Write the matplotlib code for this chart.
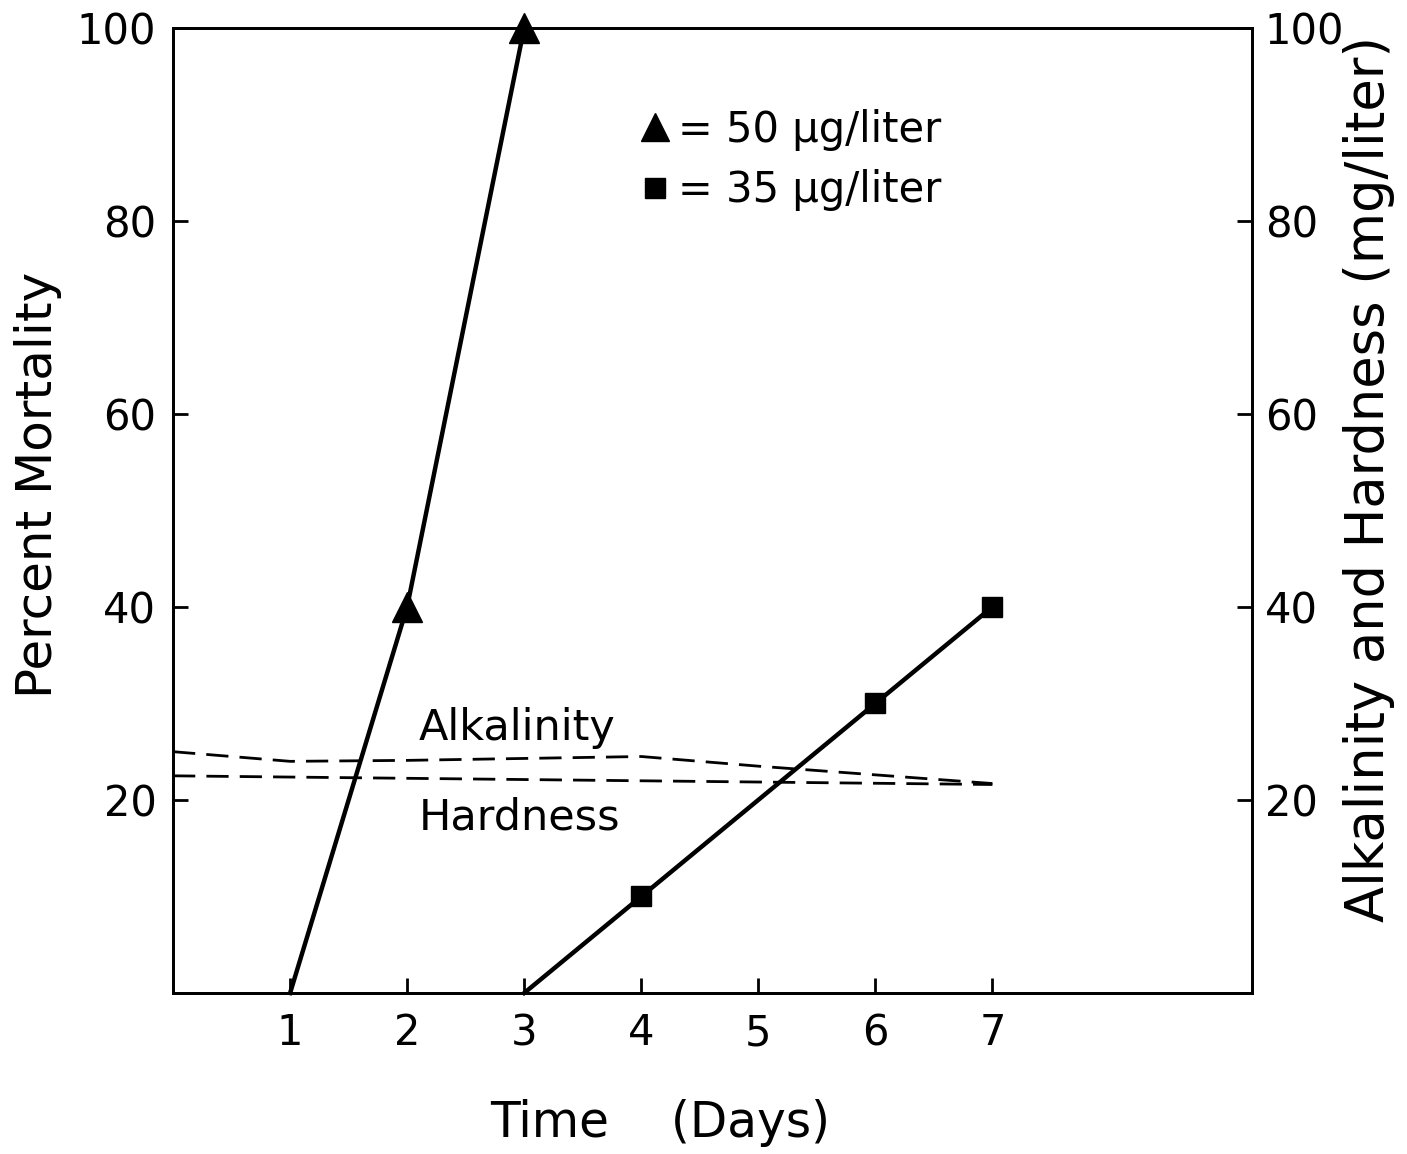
import matplotlib
matplotlib.use("Agg")
import matplotlib.pyplot as plt
from matplotlib.lines import Line2D

plt.rcParams['font.family'] = ['DejaVu Sans']

# Data
days_50 = [1, 2, 3]
mort_50 = [0, 40, 100]
days_35 = [3, 4, 6, 7]
mort_35 = [0, 10, 30, 40]
alk_days = [0, 1, 2, 3, 4, 5, 6, 7]
alkalinity = [25.0, 24.0, 24.1, 24.3, 24.5, 23.5, 22.6, 21.7]
hard_days = [0, 7]
hardness = [22.5, 21.6]
x_ticks = [1, 2, 3, 4, 5, 6, 7]
y_ticks = [20, 40, 60, 80, 100]
legend_labels = ["= 50 µg/liter", "= 35 µg/liter"]

fig = plt.figure(figsize=(14.07, 11.54), dpi=100)
ax = fig.add_axes([0.123, 0.1395, 0.767, 0.8365])
ax.set_xlim(0, 9.22)
ax.set_ylim(0, 100)

ax.plot(days_50, mort_50, color='black', lw=3.2, clip_on=False)
ax.plot(days_50[1:], mort_50[1:], linestyle='None', marker='^', ms=21, color='black', clip_on=False)
ax.plot(days_35, mort_35, color='black', lw=3.2, clip_on=False)
ax.plot(days_35[1:], mort_35[1:], linestyle='None', marker='s', ms=15, color='black', clip_on=False)

ax.plot(alk_days, alkalinity, color='black', lw=2, dashes=(8, 4))
ax.plot(hard_days, hardness, color='black', lw=2, dashes=(8, 4))

ax.text(2.1, 27.5, "Alkalinity", fontsize=31, va='center', ha='left')
ax.text(2.1, 18.2, "Hardness", fontsize=31, va='center', ha='left')

h1 = Line2D([], [], linestyle='None', marker='^', ms=20, color='black')
h2 = Line2D([], [], linestyle='None', marker='s', ms=15, color='black')
ax.legend([h1, h2], legend_labels, loc='upper left', bbox_to_anchor=(0.40, 0.955),
          frameon=False, fontsize=30, handlelength=0.6, handletextpad=0.25,
          labelspacing=0.45)

for s in ax.spines.values():
    s.set_linewidth(2)

ax.set_xticks(x_ticks)
ax.set_xticklabels([str(t) for t in x_ticks])
ax.set_yticks(y_ticks)
ax.tick_params(axis='both', direction='in', length=11, width=2, labelsize=30)
ax.tick_params(axis='x', pad=14)
ax.tick_params(axis='y', pad=12)

ax2 = ax.twinx()
ax2.set_ylim(0, 100)
ax2.set_yticks(y_ticks)
ax2.tick_params(axis='y', direction='in', length=11, width=2, labelsize=30, pad=9)
for s in ax2.spines.values():
    s.set_linewidth(2)

ax.set_xlabel("Time    (Days)", fontsize=35)
ax.xaxis.set_label_coords(0.451, -0.11)
ax.set_ylabel("Percent Mortality", fontsize=36)
ax.yaxis.set_label_coords(-0.103, 0.526)
ax2.set_ylabel("Alkalinity and Hardness (mg/liter)", fontsize=38)
ax2.yaxis.set_label_coords(1.084, 0.532)

fig.savefig("out.png", dpi=100)
